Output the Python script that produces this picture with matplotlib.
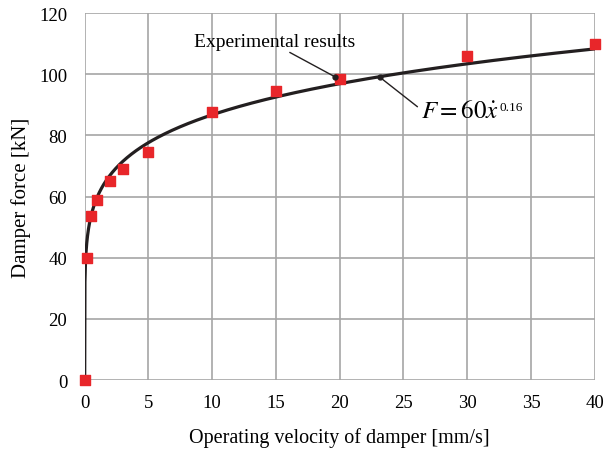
import matplotlib
matplotlib.use("Agg")
import matplotlib.pyplot as plt
import numpy as np

# experimental points
velocity = [0, 0.2, 0.5, 1, 2, 3, 5, 10, 15, 20, 30, 40]
force = [0, 40, 53.5, 59, 65, 69, 74.5, 87.5, 94.5, 98.5, 106, 110]

# fitted law F = 60 * v^0.16
coef_a = 60
coef_b = 0.16

plt.rcParams['font.family'] = ['Liberation Serif', 'DejaVu Serif']
plt.rcParams['mathtext.fontset'] = 'stix'

fig = plt.figure(figsize=(6.05, 4.52), dpi=100)
ax = fig.add_axes([0.14, 0.157, 0.843, 0.812])

x = np.linspace(0, 40, 2000)
y = coef_a * x ** coef_b
ax.plot(x, y, color="#231f20", lw=2.3, zorder=3)
ax.scatter(velocity, force, marker="s", s=50, color="#e8262a", zorder=4, clip_on=False)

ax.set_xlim(0, 40)
ax.set_ylim(0, 120)
ax.set_xticks(np.arange(0, 41, 5))
ax.set_yticks(np.arange(0, 121, 20))
ax.grid(True, color="#a6a6a6", lw=1.2)
ax.set_axisbelow(True)
for s in ax.spines.values():
    s.set_visible(False)
ax.tick_params(length=0, labelsize=13.5)
ax.tick_params(axis="x", pad=10)
ax.tick_params(axis="y", pad=12.5)

ax.set_xlabel("Operating velocity of damper [mm/s]", fontsize=14.5, labelpad=12)
ax.set_ylabel("Damper force [kN]", fontsize=15, labelpad=6)

# annotations
ax.annotate("Experimental results", xy=(19.6, 99.2), xytext=(8.6, 110.8),
            fontsize=14, ha="left", va="center",
            arrowprops=dict(arrowstyle="-", color="#231f20", lw=1.0,
                            shrinkA=0, shrinkB=0, relpos=(0.56, 0.0)))
ax.plot([19.6], [99.2], "o", ms=3.5, color="#231f20", zorder=5)

ftxt = ax.annotate(r"$F=60\dot{x}$", xy=(23.15, 99.0), xytext=(26.4, 88.0),
                   fontsize=18, ha="left", va="center",
                   arrowprops=dict(arrowstyle="-", color="#231f20", lw=1.0,
                                   shrinkA=1, shrinkB=0, relpos=(0.0, 0.55)))
ax.annotate("0.16", xy=(1, 0.5), xycoords=ftxt, xytext=(0, -5.5),
            textcoords="offset points", fontsize=9.5, ha="left", va="center")
ax.plot([23.15], [99.0], "o", ms=3.5, color="#231f20", zorder=5)

fig.savefig("out.png", dpi=100)
